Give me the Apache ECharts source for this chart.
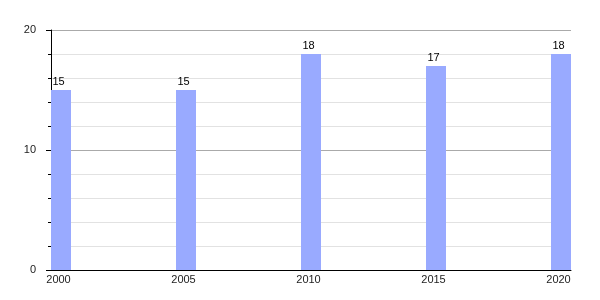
<!DOCTYPE html>
<html><head><meta charset="utf-8">
<script src="https://cdn.jsdelivr.net/npm/echarts@6/dist/echarts.min.js"></script>
<style>html,body{margin:0;padding:0;background:#fff}#c{width:600px;height:300px}</style>
</head><body><div id="c"></div>
<script>
var years = [2000, 2005, 2010, 2015, 2020];
var values = [15, 15, 18, 17, 18];
var BAR_SPAN = 0.8;
var FONT = 'Liberation Sans, Arial, sans-serif';
var chart = echarts.init(document.getElementById('c'));
chart.setOption({
  animation: false,
  grid: {left: 51, right: 29, top: 30, bottom: 30},
  xAxis: {
    type: 'value', min: 2000, max: 2000 + 20 + BAR_SPAN, interval: 5,
    axisLine: {show: true, lineStyle: {color: '#000', width: 1}},
    axisTick: {show: false},
    splitLine: {show: false},
    axisLabel: {
      color: '#222', fontSize: 11, fontFamily: FONT, margin: 4,
      padding: [0, 0, 0, 15],
      formatter: function (v) { return (v % 5 === 0) ? String(v) : ''; }
    }
  },
  yAxis: {
    type: 'value', min: 0, max: 20, interval: 10,
    axisLine: {show: true, lineStyle: {color: '#000', width: 1}},
    axisTick: {show: true, length: 5, lineStyle: {color: '#000'}},
    minorTick: {show: true, splitNumber: 5, length: 3, lineStyle: {color: '#000'}},
    splitLine: {show: true, lineStyle: {color: '#aaaaaa', width: 1}},
    minorSplitLine: {show: true, lineStyle: {color: '#e2e2e2', width: 1}},
    axisLabel: {color: '#222', fontSize: 11, fontFamily: FONT, margin: 15}
  },
  series: [{
    type: 'custom',
    clip: false,
    encode: {x: 0, y: 1},
    data: years.map(function (y, i) { return [y, values[i]]; }),
    renderItem: function (params, api) {
      var x = api.value(0), v = api.value(1);
      var p0 = api.coord([x, 0]), p1 = api.coord([x, v]);
      var w = api.size([BAR_SPAN, 0])[0];
      return {type: 'group', children: [
        {type: 'rect', shape: {x: p0[0], y: p1[1], width: w, height: p0[1] - p1[1]},
         style: {fill: '#99aaff'}},
        {type: 'text', x: p0[0] + w * 0.375, y: p1[1] - 3,
         style: {text: String(v), align: 'center', verticalAlign: 'bottom',
                 fill: '#000', fontSize: 11, fontFamily: FONT}}
      ]};
    }
  }]
});
</script></body></html>
